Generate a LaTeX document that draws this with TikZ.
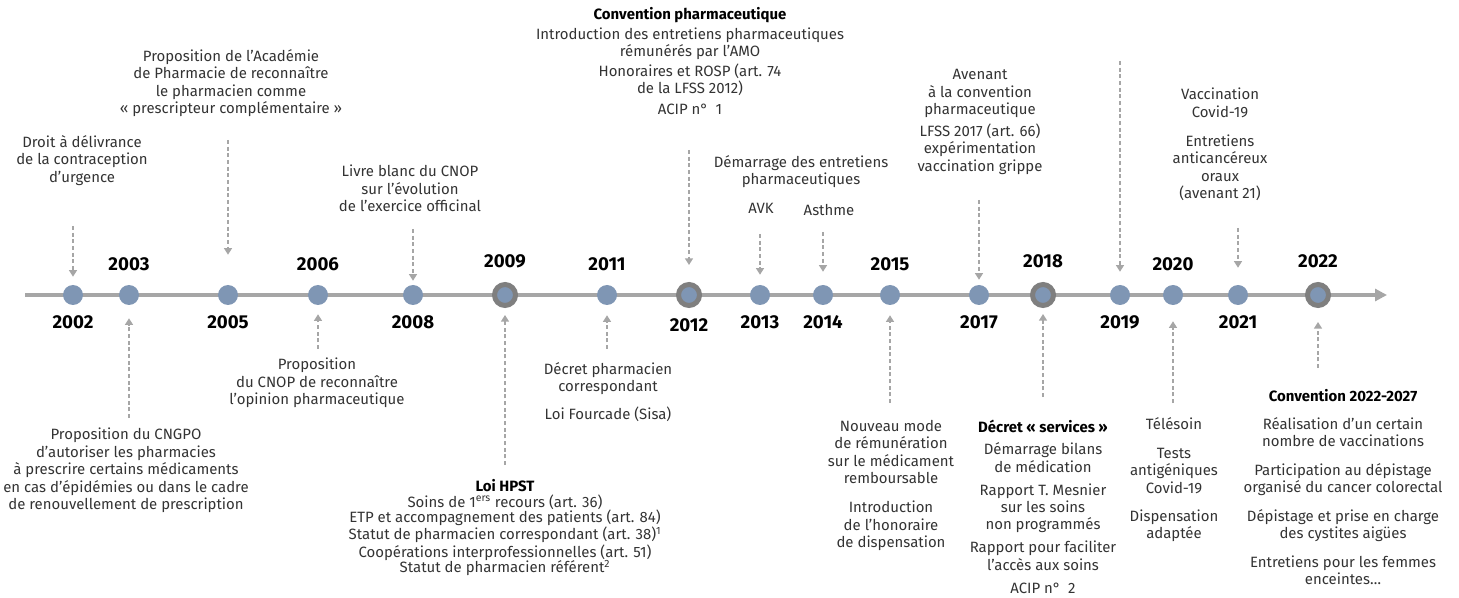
\documentclass[tikz,border=0pt]{standalone}
\usepackage{fontspec}
\setmainfont{Fira Sans}
\usetikzlibrary{arrows.meta, positioning}
\definecolor{dotblue}{HTML}{7F96B4}
\definecolor{ringgray}{HTML}{7F7F7F}
\definecolor{linegray}{HTML}{A6A6A6}
\definecolor{txtgray}{HTML}{333333}
\newcommand{\hd}[1]{\textcolor{black}{\textbf{#1}}}

\begin{document}
\begin{tikzpicture}[
    x=0.75pt, y=-0.75pt,
    node distance=7.5pt,
    yr/.style={circle, fill=dotblue, minimum size=15pt, inner sep=0pt},
    keyyr/.style={circle, fill=dotblue, draw=ringgray, line width=3.75pt, minimum size=15.75pt, inner sep=0pt},
    year/.style={font=\fontsize{14}{14}\selectfont\bfseries, inner sep=0pt},
    event/.style={align=center, anchor=north, inner sep=0pt, text=txtgray, font=\fontsize{11.2}{13.1}\selectfont},
    timeline/.style={draw=linegray, line width=3pt, -{Triangle[length=9pt, width=9pt]}},
    link/.style={draw=linegray, line width=1.1pt, dash pattern=on 3pt off 2pt, -{Triangle[length=5pt, width=6pt]}}
]
\useasboundingbox (0,0) rectangle (1459,598);

\coordinate (t0) at (25,295);
\coordinate (t1) at (1387,295);
\draw[timeline] (t0) -- (t1);

\node[yr] (y02) at (73,295) {};
\node[yr] (y03) at (129,295) {};
\node[yr] (y05) at (228,295) {};
\node[yr] (y06) at (318,295) {};
\node[yr] (y08) at (413,295) {};
\node[keyyr] (y09) at (505,295) {};
\node[yr] (y11) at (607,295) {};
\node[keyyr] (y12) at (689,295) {};
\node[yr] (y13) at (760,295) {};
\node[yr] (y14) at (823,295) {};
\node[yr] (y15) at (890,295) {};
\node[yr] (y17) at (979,295) {};
\node[keyyr] (y18) at (1043,295) {};
\node[yr] (y19) at (1120,295) {};
\node[yr] (y20) at (1173,295) {};
\node[yr] (y21) at (1238,295) {};
\node[keyyr] (y22) at (1318,295) {};

\node[year, below=of y02] (l02) {2002};
\node[year, above=10.5pt of y03] (l03) {2003};
\node[year, below=of y05] (l05) {2005};
\node[year, above=10.5pt of y06] (l06) {2006};
\node[year, below=of y08] (l08) {2008};
\node[year, above=10.5pt of y09] (l09) {2009};
\node[year, above=10.5pt of y11] (l11) {2011};
\node[year, below=of y12] (l12) {2012};
\node[year, below=of y13] (l13) {2013};
\node[year, below=of y14] (l14) {2014};
\node[year, above=10.5pt of y15] (l15) {2015};
\node[year, below=of y17] (l17) {2017};
\node[year, above=10.5pt of y18] (l18) {2018};
\node[year, below=of y19] (l19) {2019};
\node[year, above=10.5pt of y20] (l20) {2020};
\node[year, below=of y21] (l21) {2021};
\node[year, above=10.5pt of y22] (l22) {2022};

\node[event] (e02) at (82,135) {Droit à délivrance\\de la contraception\\d’urgence};
\node[event] (e05) at (231,49) {Proposition de l’Académie\\de Pharmacie de reconnaître\\le pharmacien comme\\« prescripteur complémentaire »};
\node[event] (e08) at (410,165) {Livre blanc du CNOP\\sur l’évolution\\de l’exercice officinal};
\node[event] (e12) at (690,7) {\hd{Convention pharmaceutique}\\[2pt]
    Introduction des entretiens pharmaceutiques\\rémunérés par l’AMO\\[1.5pt]
    Honoraires et ROSP (art. 74\\de la LFSS 2012)\\[2pt]ACIP n°\enspace 1};
\node[event] (e13) at (801,155) {Démarrage des entretiens\\pharmaceutiques};
\node[event] (avk) at (761,203) {AVK};
\node[event] (asthme) at (829,204) {Asthme};
\node[event] (e17) at (980,69) {Avenant\\à la convention\\pharmaceutique\\[3.4pt]
    LFSS 2017 (art. 66)\\expérimentation\\vaccination grippe};
\node[event] (e21) at (1220,88) {Vaccination\\Covid-19\\[8.6pt]
    Entretiens\\anticancéreux\\oraux\\(avenant 21)};

\node[event] (e03) at (126,428) {Proposition du CNGPO\\d’autoriser les pharmacies\\à prescrire certains médicaments\\en cas d’épidémies ou dans le cadre\\de renouvellement de prescription};
\node[event] (e06) at (317,358) {Proposition\\du CNOP de reconnaître\\l’opinion pharmaceutique};
\node[event, font=\fontsize{11.2}{11.8}\selectfont] (e09) at (505,479) {\hd{Loi HPST}\\
    Soins de 1\textsuperscript{ers} recours (art. 36)\\ETP et accompagnement des patients (art. 84)\\
    Statut de pharmacien correspondant (art. 38)\textsuperscript{1}\\Coopérations interprofessionnelles (art. 51)\\
    Statut de pharmacien référent\textsuperscript{2}};
\node[event] (e11) at (608,362) {Décret pharmacien\\correspondant\\[8pt]Loi Fourcade (Sisa)};
\node[event] (e15) at (891,420) {Nouveau mode\\de rémunération\\sur le médicament\\remboursable\\[8.6pt]
    Introduction\\de l’honoraire\\de dispensation};
\node[event] (e18) at (1043,420) {\hd{Décret « services »}\\[3.4pt]
    Démarrage bilans\\de médication\\[4pt]
    Rapport T. Mesnier\\sur les soins\\non programmés\\[4pt]
    Rapport pour faciliter\\l’accès aux soins\\[4pt]ACIP n°\enspace 2};
\node[event] (e20) at (1174,417) {Télésoin\\[8.6pt]Tests\\antigéniques\\Covid-19\\[8pt]Dispensation\\adaptée};
\node[event] (e22) at (1343,389) {\hd{Convention 2022-2027}\\[8pt]
    Réalisation d’un certain\\nombre de vaccinations\\[8pt]
    Participation au dépistage\\organisé du cancer colorectal\\[8.6pt]
    Dépistage et prise en charge\\des cystites aigües\\[8pt]
    Entretiens pour les femmes\\enceintes…};

\coordinate (a02) at (73,226);
\coordinate (a05) at (228,140);
\coordinate (a08) at (413,229);
\coordinate (a12) at (689,150);
\coordinate (a13) at (760,234);
\coordinate (a14) at (823,232);
\coordinate (a17) at (979,200);
\coordinate (a19) at (1120,61);
\coordinate (a21) at (1238,228);
\coordinate (a03) at (129,418);
\coordinate (a06) at (318,349);
\coordinate (a09) at (505,465);
\coordinate (a11) at (607,349);
\coordinate (a15) at (890,403);
\coordinate (a18) at (1043,397);
\coordinate (a20) at (1173,403);
\coordinate (a22) at (1318,368);

\draw[link, shorten >=6pt] (a02) -- (y02);
\draw[link, shorten >=22.5pt] (a05) -- (y05);
\draw[link, shorten >=3pt] (a08) -- (y08);
\draw[link, shorten >=12.75pt] (a12) -- (y12);
\draw[link, shorten >=7.5pt] (a13) -- (y13);
\draw[link, shorten >=9.75pt] (a14) -- (y14);
\draw[link, shorten >=3.75pt] (a17) -- (y17);
\draw[link, shorten >=9.75pt] (a19) -- (y19);
\draw[link, shorten >=12.75pt] (a21) -- (y21);
\draw[link, shorten >=9.75pt] (a03) -- (y03);
\draw[link, shorten >=6.75pt] (a06) -- (y06);
\draw[link, shorten >=5.25pt] (a09) -- (y09);
\draw[link, shorten >=7.5pt] (a11) -- (y11);
\draw[link, shorten >=7.5pt] (a15) -- (y15);
\draw[link, shorten >=4.5pt] (a18) -- (y18);
\draw[link, shorten >=12pt] (a20) -- (y20);
\draw[link, shorten >=10.5pt] (a22) -- (y22);
\end{tikzpicture}
\end{document}
